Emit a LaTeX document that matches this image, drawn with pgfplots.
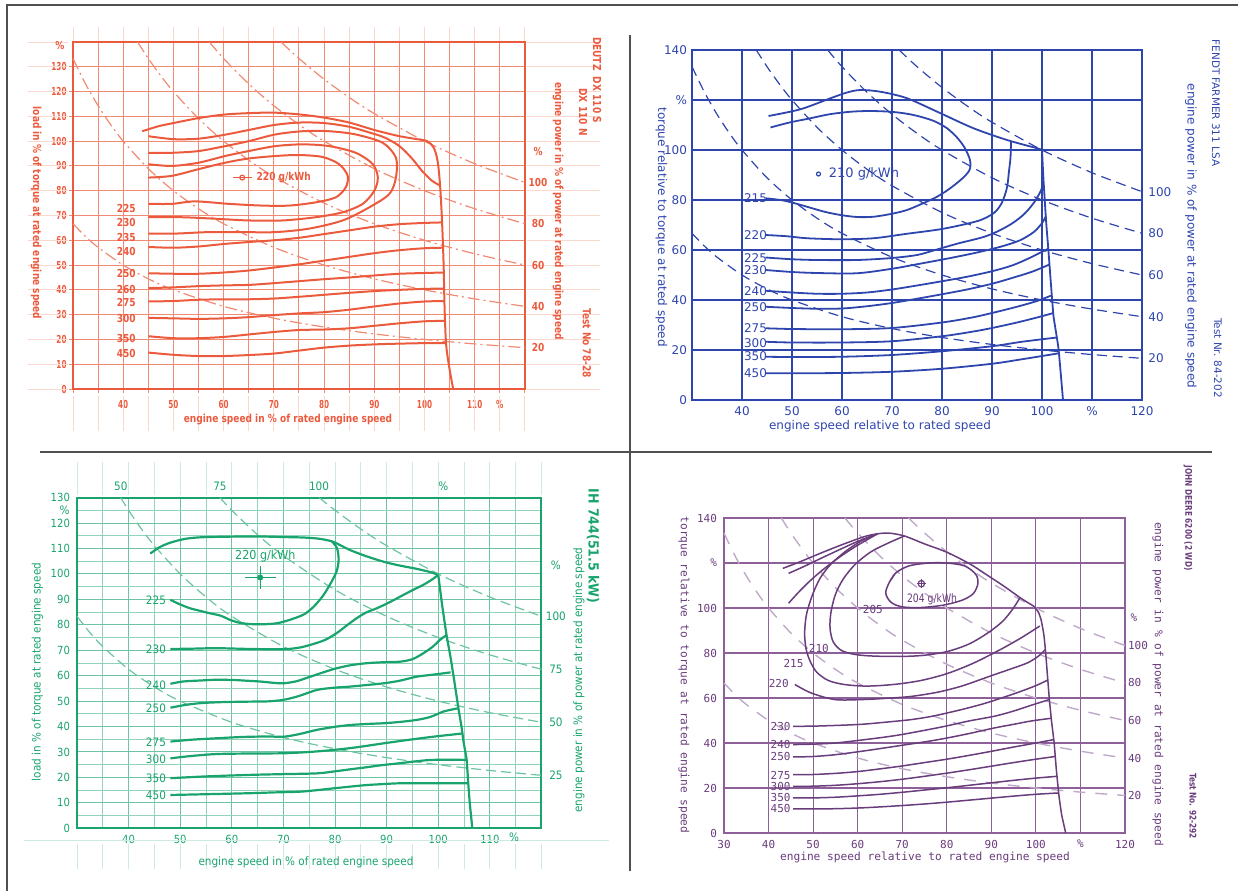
\documentclass[border=0pt]{standalone}
\usepackage{fontspec}
\setmainfont{DejaVu Sans}
\newfontfamily\redf[FakeStretch=0.82]{DejaVu Sans}
\newfontfamily\redn[FakeStretch=0.66]{DejaVu Sans}
\newfontfamily\bluef{DejaVu Sans}
\newfontfamily\greenf[FakeStretch=0.9]{DejaVu Sans}
\newfontfamily\purf{DejaVu Sans Mono}
\newfontfamily\purb[FakeStretch=0.8]{DejaVu Sans}
\usepackage{pgfplots}
\pgfplotsset{compat=1.18}
\definecolor{redc}{HTML}{EC5A3E}
\definecolor{redg}{HTML}{F08A72}
\definecolor{redx}{HTML}{FAD8CE}
\definecolor{bluec}{HTML}{2F45AE}
\definecolor{greenc}{HTML}{18A46C}
\definecolor{greeng}{HTML}{6CC4A2}
\definecolor{greenx}{HTML}{CDEBDF}
\definecolor{purc}{HTML}{693C7C}
\definecolor{purg}{HTML}{8D6099}
\definecolor{purd}{HTML}{BFA9C9}
\definecolor{framec}{HTML}{505050}
\newcommand\fs[1]{\fontsize{#1}{#1}\selectfont}
\tikzset{
  rlb/.style={font=\redf\bfseries\fs{5.5}, text=redc, inner sep=0pt},
  blb/.style={font=\bluef\fs{6}, text=bluec, inner sep=0pt},
  glb/.style={font=\greenf\fs{5.8}, text=greenc, inner sep=0pt},
  plb/.style={font=\purf\fs{5.5}, text=purc, inner sep=0pt},
}
\begin{document}
\begin{tikzpicture}
\path[use as bounding box] (0,0) rectangle (619pt,445.5pt);
\draw[framec, line width=0.7pt] (3.5pt,0) -- (3.5pt,443pt) -- (619pt,443pt);
\draw[framec, line width=0.6pt] (20pt,219.5pt) -- (606pt,219.5pt);
\draw[framec, line width=0.6pt] (315pt,10pt) -- (315pt,428pt);

%================ RED (top left) =================
\begin{axis}[
  at={(36.5pt,251pt)}, anchor=south west, scale only axis,
  width=226pt, height=173.5pt,
  xmin=30, xmax=120, ymin=0, ymax=140, clip=false,
  axis line style={redc, line width=1.1pt},
  grid=major, major grid style={redg, line width=0.5pt},
  tick pos=left, tick align=outside, major tick length=2pt,
  tick style={redg, line width=0.5pt},
  xtick={30,35,...,120},
  xticklabels={,,40,,50,,60,,70,,80,,90,,100,,110,\%,},
  ytick={0,10,...,130},
  yticklabels={0,10,20,30,40,50,60,70,80,90,100,110,120,130},
  ticklabel style={font=\redn\bfseries\fs{5.5}, text=redc},
  yticklabel style={inner sep=1pt},
  rc/.style={redc, line width=1pt, smooth, tension=0.5},
  rd/.style={redg, line width=0.6pt, smooth, dash pattern=on 6pt off 2pt on 1pt off 2pt},
]
\pgfplotsinvokeforeach{0,10,...,140}{
  \draw[redx, line width=0.5pt] (axis cs:21,#1) -- (axis cs:29,#1);
  \draw[redx, line width=0.5pt] (axis cs:120.5,#1) -- (axis cs:135,#1);
}
\pgfplotsinvokeforeach{30,35,...,120}{
  \draw[redx, line width=0.5pt] (axis cs:#1,140.5) -- (axis cs:#1,146);
  \draw[redx, line width=0.5pt] (axis cs:#1,-3) -- (axis cs:#1,-17);
}
\addplot[rd] coordinates {(30,66.67)(32.5,61.54)(35,57.14)(40,50)(45,44.44)(50,40)(60,33.33)(70,28.57)(80,25)(90,22.22)(100,20)(110,18.18)(120,16.67)};
\addplot[rd] coordinates {(30,133.33)(32.5,123.08)(35,114.29)(37.5,106.67)(40,100)(45,88.89)(50,80)(55,72.73)(60,66.67)(70,57.14)(80,50)(90,44.44)(100,40)(110,36.36)(120,33.33)};
\addplot[rd] coordinates {(42.86,140)(45,133.33)(47.5,126.32)(50,120)(55,109.09)(60,100)(65,92.31)(70,85.71)(80,75)(90,66.67)(100,60)(110,54.55)(120,50)};
\addplot[rd] coordinates {(57.14,140)(60,133.33)(65,123.08)(70,114.29)(75,106.67)(80,100)(90,88.89)(100,80)(110,72.73)(120,66.67)};
\addplot[rd] coordinates {(71.43,140)(75,133.33)(80,125)(85,117.65)(90,111.11)(100,100)(110,90.91)(120,83.33)};
\addplot[rc] coordinates {(43.8,104)(47,106)(50,107.3)(55,109.3)(60,110.7)(65,111.3)(70,111.5)(75,110.8)(80,109.5)(85,107.5)(90,104.5)(95,102)(98.5,100.8)(100.5,100)(101.8,97.5)(102.6,92)(103.1,82)(103.5,67)(103.8,50)(104,32)(104.3,18)(104.9,9)(105.7,0)};
\addplot[rc] coordinates {(45,85.3)(49.7,86)(55,88.7)(60.3,91.3)(65,93)(70.3,94)(75,94.4)(79.7,93.6)(83,90.7)(84.7,86)(84.3,81.3)(82.3,77.3)(78.3,75.3)(73,74)(67.7,74)(61,74.7)(54.3,75.7)(49.7,74.7)(45,74.7)};
\addplot[rc] coordinates {(45,90.7)(49.7,90)(55,91.3)(60.3,94)(65,96)(70.3,98)(75.7,98.7)(81,98)(86.3,95.3)(89.7,90.7)(90.7,85.3)(90,80)(87.7,74.7)(83.7,71.3)(78.3,69.3)(71.7,68)(65,68)(58.3,68.7)(51.7,69.3)(45,69.3)};
\addplot[rc] coordinates {(45,95.3)(49.7,95.3)(55,96)(60.3,98)(65,100)(70.3,102.7)(75.7,104)(81,104)(86.3,102.7)(91.7,99.3)(94.3,93.3)(94.3,85.3)(93,78.7)(89,73.3)(83.7,68)(77,64.7)(70.3,63.3)(63.7,63.3)(57,63.3)(50.3,62.7)(45,62.7)};
\addplot[rc] coordinates {(45,102)(50,100.8)(55,101)(60,102.5)(65,104.5)(70,106.5)(75,107.5)(80,107.3)(85,105.8)(89,103.5)(92,101.5)(95,98)(97.5,93)(99.5,88)(101.5,84)(103.2,82)};
\addplot[rc] coordinates {(45,57.3)(50,57)(55,57.5)(60,58.5)(65,59.3)(70,60)(75,61)(80,62.5)(85,64)(90,65.5)(95,66.5)(100,67)(103.4,67.2)};
\addplot[rc] coordinates {(45,46.7)(50,46.5)(55,46.5)(60,47)(65,47.8)(70,49)(75,50.3)(80,51.8)(85,53.3)(90,54.8)(95,56)(100,56.8)(103.6,57)};
\addplot[rc] coordinates {(45,40.7)(50,41)(55,41.5)(60,41.8)(65,42)(70,42.7)(75,43.5)(80,44.3)(85,45)(90,45.8)(95,46.5)(100,46.8)(103.8,47)};
\addplot[rc] coordinates {(45,35.3)(50,35.5)(55,36)(60,36.2)(65,36.2)(70,36.5)(75,37.2)(80,38)(85,38.8)(90,39.5)(95,40)(100,40.4)(103.9,40.5)};
\addplot[rc] coordinates {(45,28.7)(50,28.5)(55,28.3)(60,28.5)(65,29)(70,29.8)(75,30.5)(80,31)(85,32)(90,33.3)(95,34.5)(100,35.3)(104,35.5)};
\addplot[rc] coordinates {(45,21.3)(50,20.5)(55,20.5)(60,21)(65,22)(70,23)(75,23.8)(80,24)(85,24.5)(90,25.5)(95,26.5)(100,27.3)(104.1,27.5)};
\addplot[rc] coordinates {(45,14.7)(50,13.8)(55,13.3)(60,13.3)(65,13.7)(70,14.3)(75,15.5)(80,16.7)(85,17.5)(90,18)(95,18.3)(100,18.5)(104.3,18.5)};
\addplot[redc, line width=0.6pt] coordinates {(61.8,85.3)(65.6,85.3)};
\addplot[redc, only marks, mark=o, mark size=1.2pt, mark options={line width=0.6pt}] coordinates {(63.7,85.3)};
\node[rlb, anchor=west] at (axis cs:66.5,85.3) {220 g/kWh};
\node[rlb] at (axis cs:40.6,73) {225};
\node[rlb] at (axis cs:40.6,67) {230};
\node[rlb] at (axis cs:40.6,61.3) {235};
\node[rlb] at (axis cs:40.6,55.5) {240};
\node[rlb] at (axis cs:40.6,46.4) {250};
\node[rlb] at (axis cs:40.6,40.3) {260};
\node[rlb] at (axis cs:40.6,34.7) {275};
\node[rlb] at (axis cs:40.6,28.4) {300};
\node[rlb] at (axis cs:40.6,20.4) {350};
\node[rlb] at (axis cs:40.6,14.4) {450};
\node[rlb] at (axis cs:27.4,138.4) {\%};
\node[rlb] at (axis cs:122.6,96) {\%};
\node[rlb] at (axis cs:122.6,83.3) {100};
\node[rlb] at (axis cs:122.6,66.7) {80};
\node[rlb] at (axis cs:122.6,50) {60};
\node[rlb] at (axis cs:122.6,33.3) {40};
\node[rlb] at (axis cs:122.6,16.7) {20};
\end{axis}

%================ BLUE (top right) =================
\begin{axis}[
  at={(346pt,245.5pt)}, anchor=south west, scale only axis,
  width=225pt, height=175pt,
  xmin=30, xmax=120, ymin=0, ymax=140, clip=false,
  axis line style={bluec, line width=0.9pt},
  grid=major, major grid style={bluec, line width=0.7pt},
  major tick length=0pt,
  xtick={30,40,...,120}, xticklabels={,40,50,60,70,80,90,100,\%,120},
  ytick={0,20,...,140}, yticklabels={0,20,40,60,80,100,\%,140},
  ticklabel style={font=\bluef\fs{6}, text=bluec},
  yticklabel style={xshift=1pt},
  bc/.style={bluec, line width=0.9pt, smooth, tension=0.5},
  bd/.style={bluec, line width=0.6pt, smooth, dash pattern=on 5pt off 3pt},
]
\addplot[bd] coordinates {(30,66.67)(32.5,61.54)(35,57.14)(40,50)(45,44.44)(50,40)(60,33.33)(70,28.57)(80,25)(90,22.22)(100,20)(110,18.18)(120,16.67)};
\addplot[bd] coordinates {(30,133.33)(32.5,123.08)(35,114.29)(37.5,106.67)(40,100)(45,88.89)(50,80)(55,72.73)(60,66.67)(70,57.14)(80,50)(90,44.44)(100,40)(110,36.36)(120,33.33)};
\addplot[bd] coordinates {(42.86,140)(45,133.33)(47.5,126.32)(50,120)(55,109.09)(60,100)(65,92.31)(70,85.71)(80,75)(90,66.67)(100,60)(110,54.55)(120,50)};
\addplot[bd] coordinates {(57.14,140)(60,133.33)(65,123.08)(70,114.29)(75,106.67)(80,100)(90,88.89)(100,80)(110,72.73)(120,66.67)};
\addplot[bd] coordinates {(71.43,140)(75,133.33)(80,125)(85,117.65)(90,111.11)(100,100)(110,90.91)(120,83.33)};
\addplot[bc] coordinates {(45.3,113.6)(51.7,116.3)(57.7,120.7)(61,123)(63.7,124)(67.7,123.3)(73,120.7)(79.7,114.7)(86.3,108.7)(93,104)(99,100.7)(100,100)};
\addplot[bc, tension=0.2] coordinates {(100,100)(100.3,88)(100.8,72)(101.3,59.4)(101.8,46)(102.3,33.5)(103.3,20.6)(104.2,0)};
\addplot[bc] coordinates {(45.7,109)(49.5,111)(53.7,112.7)(57.5,114.3)(61.7,115.3)(65.5,115.6)(69.7,115.3)(73,114.5)(75.7,113.3)(78.5,111.5)(81,108.7)(83,105)(84.5,101)(85.6,96)(85.5,92)(84,88.5)(81.5,84.5)(79,81.3)(76,78.5)(73,76)(70,74.5)(66.3,73.3)(63,73.2)(59.7,74)(56.5,75.3)(53,77.3)(50,79)(47.7,80)(44.7,80.7)};
\addplot[bc] coordinates {(44.7,66)(49,65.5)(53,64.7)(59.7,64.3)(66.3,64.7)(73,66.5)(79.7,68.3)(85,70.5)(88,72.2)(90.5,75)(92,79)(93,85)(93.4,91.6)(93.7,97)(93.8,103.3)};
\addplot[bc] coordinates {(44.7,57)(50,56.3)(55,56)(63,56)(70,56.8)(75,58)(78.3,59.8)(83,62.5)(88.3,65.2)(91.5,67.8)(94.3,71)(96.5,74.5)(98.3,78.7)(99.6,83)(100.3,86.5)};
\addplot[bc] coordinates {(44.7,52)(50,51.2)(55,50.8)(63,50.7)(70,52.5)(75,54.3)(81.7,56.8)(87,59)(91.7,61.3)(95.5,63.8)(98.3,67.1)(99.9,70.5)(100.8,73.5)};
\addplot[bc] coordinates {(44.7,43.7)(50,43)(55,42.5)(60,42.5)(65,43)(70,44.2)(75,45.8)(80,47.5)(85,49.3)(90,51.5)(94,53.8)(97.5,56.8)(101.3,60.6)};
\addplot[bc] coordinates {(44.7,37.3)(50,36.8)(55,36.5)(60,36.6)(65,37.5)(70,38.8)(75,40.5)(80,42.3)(85,44.2)(90,46.5)(94,48.8)(98,51.3)(101.5,54.2)};
\addplot[bc] coordinates {(44.7,28.7)(50,28.4)(60,28.3)(70,28.8)(80,31)(86,33)(90,34.8)(95,37.3)(99,39.6)(102,41.9)};
\addplot[bc] coordinates {(44.7,23.3)(50,23)(60,23)(70,23.5)(80,25.5)(86,27.3)(90,28.8)(95,31)(99,33)(102.3,34.8)};
\addplot[bc] coordinates {(44.7,17.3)(50,17.2)(60,17.3)(70,18)(80,19.5)(90,21.5)(96,23.3)(103,25)};
\addplot[bc] coordinates {(44.7,10.7)(50,10.7)(60,10.8)(70,11.3)(80,12.5)(90,14.5)(96,16.3)(103.4,18.7)};
\addplot[bluec, only marks, mark=o, mark size=1pt, mark options={line width=0.6pt}] coordinates {(55.3,90.4)};
\node[blb, anchor=west, font=\bluef\fs{6.5}] at (axis cs:57.3,90.4) {210 g/kWh};
\node[blb] at (axis cs:42.7,80.7) {215};
\node[blb] at (axis cs:42.7,66) {220};
\node[blb] at (axis cs:42.7,56.8) {225};
\node[blb] at (axis cs:42.7,51.8) {230};
\node[blb] at (axis cs:42.7,43.7) {240};
\node[blb] at (axis cs:42.7,37.3) {250};
\node[blb] at (axis cs:42.7,28.7) {275};
\node[blb] at (axis cs:42.7,22.9) {300};
\node[blb] at (axis cs:42.7,17.4) {350};
\node[blb] at (axis cs:42.7,10.7) {450};
\node[blb, anchor=west] at (axis cs:121.2,83.3) {100};
\node[blb, anchor=west] at (axis cs:121.2,66.7) {80};
\node[blb, anchor=west] at (axis cs:121.2,50) {60};
\node[blb, anchor=west] at (axis cs:121.2,33.3) {40};
\node[blb, anchor=west] at (axis cs:121.2,16.7) {20};
\end{axis}

%================ GREEN (bottom left) =================
\begin{axis}[
  at={(38.5pt,31.35pt)}, anchor=south west, scale only axis,
  width=232.25pt, height=165.35pt,
  xmin=30, xmax=120, ymin=0, ymax=130, clip=false,
  axis line style={greenc, line width=1pt},
  grid=both, major grid style={greeng, line width=0.5pt},
  minor grid style={greeng!75, line width=0.35pt},
  major tick length=0pt, minor tick length=0pt,
  xtick={30,40,...,120}, minor xtick={35,45,...,115},
  xticklabels={,40,50,60,70,80,90,100,110,},
  ytick={0,10,...,130}, minor ytick={5,15,...,125},
  yticklabels={0,10,20,30,40,50,60,70,80,90,100,110,120,130},
  ticklabel style={font=\greenf\fs{5.6}, text=greenc},
  gc/.style={greenc, line width=1.1pt, smooth, tension=0.5},
  gd/.style={greeng, line width=0.6pt, smooth, dash pattern=on 5pt off 2.5pt},
]
\pgfplotsinvokeforeach{30,35,...,120}{
  \draw[greenx, line width=0.4pt] (axis cs:#1,131) -- (axis cs:#1,144);
  \draw[greenx, line width=0.4pt] (axis cs:#1,-6) -- (axis cs:#1,-16);
}
\draw[greenx, line width=0.5pt] (axis cs:19.7,-4.6) -- (axis cs:133,-4.6);
\addplot[gd] coordinates {(30,83.33)(32.5,76.92)(35,71.43)(40,62.5)(45,55.56)(50,50)(60,41.67)(70,35.71)(80,31.25)(90,27.78)(100,25)(110,22.73)(120,20.83)};
\addplot[gd] coordinates {(38.46,130)(40,125)(42.5,117.65)(45,111.11)(50,100)(55,90.91)(60,83.33)(70,71.43)(80,62.5)(90,55.56)(100,50)(110,45.45)(120,41.67)};
\addplot[gd] coordinates {(57.69,130)(60,125)(65,115.38)(70,107.14)(80,93.75)(90,83.33)(100,75)(110,68.18)(120,62.5)};
\addplot[gd] coordinates {(76.92,130)(80,125)(85,117.65)(90,111.11)(100,100)(110,90.91)(120,83.33)};
\addplot[gc] coordinates {(44.2,108)(46,110.5)(48.1,112.3)(51,113.8)(54,114.4)(58,114.6)(62,114.7)(66,114.7)(70,114.5)(74,114.3)(77,113.8)(79.4,112.8)(81,111.3)(83,109.3)(86,107)(89.4,104.8)(92.5,103.3)(95.8,102)(98.5,100.7)(100,99.6)};
\addplot[gc, tension=0.2] coordinates {(100,99.6)(100.8,87)(101.6,76)(102.4,67)(103.1,58)(103.9,47.2)(104.5,40)(104.9,34)(105.5,27)(105.8,18)(106.1,10)(106.6,0)};
\addplot[gc] coordinates {(79.4,112.8)(80.4,110)(80.7,105.5)(80.3,101)(79.2,96.5)(77.7,91.5)(75.8,87)(73.9,84)(71,81.8)(68.7,80.6)(66,80.2)(63.5,80.3)(61.5,80.8)(59.7,81.9)(57.8,83.6)(55.8,84.5)(53.8,85.5)(51.9,86.5)(50,88)(48.1,89.8)};
\addplot[gc] coordinates {(48.1,70.5)(52,70.6)(57.1,70.8)(63.5,70.5)(70,70.4)(73,71)(75.2,72.1)(78,74)(80.3,76.7)(82.3,79.8)(84.2,82.6)(86,84.8)(88.1,86.5)(90.7,89)(93.2,91.7)(95.2,93.8)(97.1,95.7)(98.8,97.8)(100,99.6)};
\addplot[gc] coordinates {(48.1,56.8)(50.5,57.7)(53.9,58.1)(57,58.4)(60.3,58.3)(63,58)(65.5,57.7)(68,57.2)(70,57)(72.5,57.8)(75.2,59.6)(78,61.5)(80.3,62.9)(83,64.1)(86.1,64.9)(89.5,65.3)(92.6,65.5)(95,66.5)(97.1,68.8)(99,71.5)(100.3,74)(101.6,76)};
\addplot[gc] coordinates {(48.1,47.4)(51,48.5)(53.9,49.2)(58,49.6)(63.5,49.8)(67,49.9)(70,50.5)(73,52)(76.5,54.4)(80,55.3)(82.9,55.7)(86,56.3)(89.4,57)(92.5,58)(95.8,59.6)(99,60.4)(102.4,61.3)};
\addplot[gc] coordinates {(48.1,34.1)(52,34.8)(57.1,35.4)(62,35.9)(66.8,36.1)(70,36)(73,37)(76.5,38.7)(80,39.9)(82.9,40.6)(86,41)(89.4,41.3)(92.5,41.8)(95.8,42.6)(98.5,43.8)(101,45.9)(103.9,47.2)};
\addplot[gc] coordinates {(48.1,27.5)(52,28.4)(57.1,29.2)(63.5,29.4)(70,29.5)(75,30)(79.7,30.8)(84,31.8)(89.4,33.4)(94,34.7)(99,36)(104.8,37.3)};
\addplot[gc] coordinates {(48.1,19.7)(55,20.4)(63.5,21)(70,21.3)(76.5,21.6)(80,22.4)(83,23.2)(86.1,24)(89,24.8)(92.6,25.6)(96,26.4)(99,26.9)(105.4,26.9)};
\addplot[gc] coordinates {(48.1,13.1)(55,13.4)(63.5,13.8)(68,14.1)(73.2,14.4)(76.5,15)(79.7,15.7)(83,16.4)(86.1,17)(89.5,17.4)(92.6,17.7)(98,17.7)(105.8,17.7)};
\addplot[greenc, line width=0.7pt] coordinates {(62.5,98.6)(68.5,98.6)};
\addplot[greenc, line width=0.7pt] coordinates {(65.5,94)(65.5,103)};
\addplot[greenc, only marks, mark=*, mark size=1.3pt] coordinates {(65.5,98.6)};
\node[glb, font=\greenf\fs{6.2}] at (axis cs:66.5,107) {220 g/kWh};
\node[glb] at (axis cs:45.3,89.5) {225};
\node[glb] at (axis cs:45.3,70.5) {230};
\node[glb] at (axis cs:45.3,56.4) {240};
\node[glb] at (axis cs:45.3,47.2) {250};
\node[glb] at (axis cs:45.3,33.7) {275};
\node[glb] at (axis cs:45.3,27.1) {300};
\node[glb] at (axis cs:45.3,19.7) {350};
\node[glb] at (axis cs:45.3,13.1) {450};
\node[glb] at (axis cs:27.6,125) {\%};
\node[glb] at (axis cs:114.7,-3.5) {\%};
\node[glb] at (axis cs:122.8,103.5) {\%};
\node[glb] at (axis cs:122.8,83.3) {100};
\node[glb] at (axis cs:122.8,62.5) {75};
\node[glb] at (axis cs:122.8,41.7) {50};
\node[glb] at (axis cs:122.8,20.8) {25};
\node[glb] at (axis cs:38.5,134.3) {50};
\node[glb] at (axis cs:57.7,134.3) {75};
\node[glb] at (axis cs:76.9,134.3) {100};
\node[glb] at (axis cs:101,134.3) {\%};
\end{axis}

%================ PURPLE (bottom right) =================
\begin{axis}[
  at={(362pt,29pt)}, anchor=south west, scale only axis,
  width=200.5pt, height=157.5pt,
  xmin=30, xmax=120, ymin=0, ymax=140, clip=false,
  axis line style={purg, line width=0.8pt},
  grid=major, major grid style={purg, line width=0.6pt},
  major tick length=0pt,
  xtick={30,40,...,120}, xticklabels={30,40,50,60,70,80,90,100,\%,120},
  ytick={0,20,...,140}, yticklabels={0,20,40,60,80,100,\%,140},
  ticklabel style={font=\purf\fs{5.5}, text=purc},
  pc/.style={purc, line width=0.75pt, smooth, tension=0.5},
  pd/.style={purd, line width=0.7pt, smooth, dash pattern=on 6pt off 5pt},
]
\addplot[pd] coordinates {(30,66.67)(32.5,61.54)(35,57.14)(40,50)(45,44.44)(50,40)(60,33.33)(70,28.57)(80,25)(90,22.22)(100,20)(110,18.18)(120,16.67)};
\addplot[pd] coordinates {(30,133.33)(32.5,123.08)(35,114.29)(37.5,106.67)(40,100)(45,88.89)(50,80)(55,72.73)(60,66.67)(70,57.14)(80,50)(90,44.44)(100,40)(110,36.36)(120,33.33)};
\addplot[pd] coordinates {(42.86,140)(45,133.33)(47.5,126.32)(50,120)(55,109.09)(60,100)(65,92.31)(70,85.71)(80,75)(90,66.67)(100,60)(110,54.55)(120,50)};
\addplot[pd] coordinates {(57.14,140)(60,133.33)(65,123.08)(70,114.29)(75,106.67)(80,100)(90,88.89)(100,80)(110,72.73)(120,66.67)};
\addplot[pd] coordinates {(71.43,140)(75,133.33)(80,125)(85,117.65)(90,111.11)(100,100)(110,90.91)(120,83.33)};
\addplot[pc] coordinates {(64.5,133)(67,133.3)(70.5,132)(75,128.5)(80,124.8)(85,119.8)(88,116)(92.9,109.6)(96.6,104.4)(99.6,100.7)};
\addplot[pc, tension=0.3] coordinates {(99.6,100.7)(100.6,98)(101.2,94.5)(101.8,88)(102.2,80)(102.6,70)(103,60)(103.5,50)(104.1,40)(104.6,28)(105.2,16.3)(105.8,8)(106.7,0)};
\addplot[pc] coordinates {(43.2,117.6)(47,120.5)(51,123.8)(55,127)(59,130)(62,132)(64.5,133)};
\addplot[pc] coordinates {(44.5,115.4)(48,118.5)(52,122.3)(56,126)(60,129.6)(64.5,133)};
\addplot[pc] coordinates {(44.5,102.1)(46.5,106.5)(49,111.5)(52,116.7)(55.5,122)(59.5,127.3)(64.5,133)};
\addplot[pc] coordinates {(64.5,133)(61,130)(57.5,125.5)(54,119.5)(51.5,113)(49.7,105)(48.5,97)(48.1,89)(48.4,82)(49.3,76.5)(50.8,71.5)(53.4,67.8)(57,66)(62,65.3)(68,66)(74,67.7)(80,70.8)(86,75.5)(92,81.5)(96.5,86.5)(100.9,92)};
\addplot[pc] coordinates {(70.5,132)(67,129)(63,125)(59.5,119.5)(56.8,113)(55,106)(54,98)(53.8,91)(54.5,85)(56.3,81.2)(59,79.5)(62,78.8)(66,78.5)(70.5,78.5)(75,79)(80.2,80.7)(85,84)(89.2,88.9)(92.5,94)(94.8,99.5)(96.4,104.5)};
\addplot[pc] coordinates {(67,111)(68.5,115.5)(71.5,118.7)(76,120)(80,120)(84,118.7)(86.5,115)(87,111)(86,106.5)(83.5,103.5)(79,101.2)(74,100.2)(70,100.5)(67.5,102.5)(66.3,106.5)(67,111)(68.5,115.5)};
\addplot[pc] coordinates {(45.9,66)(49.6,62.2)(54.9,59.3)(60.8,59.3)(66,59.8)(72,60.7)(78,62.6)(83.2,65.2)(87,67.8)(90.7,70.4)(94.5,73)(98.1,75.6)(100.5,78.5)(102.1,81.5)};
\addplot[pc] coordinates {(45.5,47.4)(50,47.5)(55,47.8)(60.8,48.3)(66,49.2)(72,50.4)(77,52)(83.2,54.8)(88,57.3)(92,59.8)(96,62.5)(100,65.5)(102.7,68)};
\addplot[pc] coordinates {(45.5,39.3)(50,39.5)(55,40)(60.8,41.3)(66,42.6)(70,43.8)(75.7,45.9)(80,47.6)(85,49.8)(90.7,51.9)(95,54.2)(99,56.8)(103,59.3)};
\addplot[pc] coordinates {(45.5,33.8)(50,34)(55,34.8)(60.8,36.3)(66,37.8)(70,39)(75.7,40.7)(80,42.2)(85,44.2)(90.7,46.7)(95,48.3)(99,49.8)(103.5,51)};
\addplot[pc] coordinates {(45.5,25.9)(50,26)(55,26.5)(60,27.3)(65,28.5)(70,29.8)(75,31.3)(80,32.8)(85,34.5)(90,36.3)(95,38.2)(100,40)(104,41.5)};
\addplot[pc] coordinates {(45.5,20.7)(50,20.8)(55,21.2)(60,21.9)(65,22.8)(70,23.9)(75,25.2)(80,26.6)(85,28.1)(90,29.7)(95,31.3)(100,32.8)(104.3,34)};
\addplot[pc] coordinates {(45.5,15.6)(50,15.6)(55,15.9)(60,16.5)(65,17.2)(70,18.1)(75,19.1)(80,20.1)(85,21.2)(90,22.3)(95,23.4)(100,24.4)(104.8,25.2)};
\addplot[pc] coordinates {(45.5,10.7)(50,10.7)(55,10.8)(60,11.1)(65,11.6)(70,12.2)(75,12.9)(80,13.7)(85,14.6)(90,15.5)(95,16.4)(100,17.2)(105.1,17.8)};
\addplot[purc, only marks, mark=o, mark size=1.6pt, mark options={line width=0.6pt}] coordinates {(74.3,110.8)};
\addplot[purc, only marks, mark=+, mark size=2.2pt, mark options={line width=0.6pt}] coordinates {(74.3,110.8)};
\node[plb, font=\purb\fs{5.8}] at (axis cs:76.7,103.8) {204 g/kWh};
\node[plb] at (axis cs:63.4,99.3) {205};
\node[plb] at (axis cs:51.3,82.2) {210};
\node[plb] at (axis cs:45.6,75.3) {215};
\node[plb] at (axis cs:42.3,66.3) {220};
\node[plb] at (axis cs:42.7,47.4) {230};
\node[plb] at (axis cs:42.7,39.3) {240};
\node[plb] at (axis cs:42.7,33.8) {250};
\node[plb] at (axis cs:42.7,25.7) {275};
\node[plb] at (axis cs:42.7,20.7) {300};
\node[plb] at (axis cs:42.7,15.6) {350};
\node[plb] at (axis cs:42.7,10.7) {450};
\node[plb] at (axis cs:122,95.7) {\%};
\node[plb, anchor=west] at (axis cs:120.6,83.3) {100};
\node[plb, anchor=west] at (axis cs:120.6,66.7) {80};
\node[plb, anchor=west] at (axis cs:120.6,50) {60};
\node[plb, anchor=west] at (axis cs:120.6,33.3) {40};
\node[plb, anchor=west] at (axis cs:120.6,16.7) {20};
\end{axis}

%================ texts in pixel coordinates =================
\begin{scope}[x=0.5pt,y=-0.5pt,yshift=445.5pt]
\node[rlb, rotate=-90] at (36,213) {load in \% of torque at rated engine speed};
\node[rlb, rotate=-90] at (558,211) {engine power in \% of power at rated engine speed};
\node[rlb, rotate=-90] at (597,80) {DEUTZ\ \ DX 110 S};
\node[rlb, rotate=-90] at (583,112) {DX 110 N};
\node[rlb, rotate=-90] at (587,343) {Test No 78-28};
\node[rlb] at (288,420) {engine speed in \% of rated engine speed};
\node[blb, rotate=-90] at (661.5,227) {torque relative to torque at rated speed};
\node[blb] at (880,426) {engine speed relative to rated speed};
\node[blb, rotate=-90] at (1191,236) {engine power in \% of power at rated engine speed};
\node[blb, rotate=-90, font=\bluef\fs{5.2}] at (1216,103) {FENDT FARMER 311 LSA};
\node[blb, rotate=-90, font=\bluef\fs{5.2}] at (1218,358) {Test Nr. 84-202};
\node[glb, rotate=90] at (37.5,672) {load in \% of torque at rated engine speed};
\node[glb] at (306,862) {engine speed in \% of rated engine speed};
\node[glb, rotate=90] at (579,680) {engine power in \% of power at rated engine speed};
\node[glb, rotate=-90, font=\greenf\bfseries\fs{7}] at (593,546) {IH 744(51.5 kW)};
\node[plb, rotate=-90, font=\purf\fs{5.6}] at (684,675) {torque relative to torque at rated engine speed};
\node[plb, font=\purf\fs{5.6}] at (925,857) {engine speed relative to rated engine speed};
\node[plb, rotate=-90, font=\purf\fs{5.6}] at (1158,684) {engine power in \% of power at rated engine speed};
\node[plb, rotate=-90, font=\purb\bfseries\fs{4.6}] at (1188,518) {JOHN DEERE 6200 (2 WD)};
\node[plb, rotate=-90, font=\purb\bfseries\fs{4.6}] at (1193,806) {Test No. 92-292};
\end{scope}
\end{tikzpicture}
\end{document}
